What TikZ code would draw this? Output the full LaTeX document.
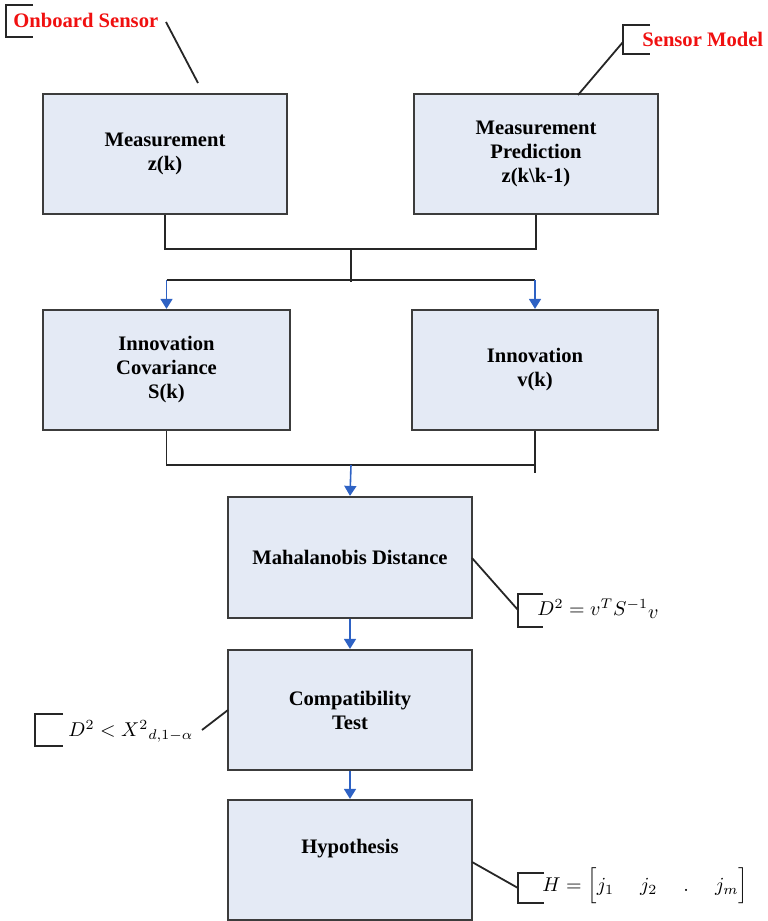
\documentclass[tikz,border=0pt]{standalone}
\usepackage{fontspec}
\setmainfont{Liberation Serif}
\usetikzlibrary{arrows.meta}
\definecolor{boxfill}{HTML}{E4EAF5}
\definecolor{boxline}{HTML}{3C3C3C}
\definecolor{arrowblue}{HTML}{2E62C4}
\definecolor{labelred}{HTML}{F01010}
\begin{document}
\begin{tikzpicture}[x=0.5pt,y=-0.5pt,
  stepbox/.style={draw=boxline, fill=boxfill, line width=1.1pt, minimum width=122pt, minimum height=60pt, inner sep=2pt, align=center, font=\fontsize{10.3}{12}\selectfont\bfseries},
  wire/.style={draw=black!85, line width=0.9pt},
  flow/.style={draw=arrowblue, line width=0.8pt, -{Triangle[length=5pt,width=6pt]}},
  bracket/.style={draw=black!85, line width=0.9pt},
  tag/.style={anchor=west, inner sep=0pt, text=labelred, font=\fontsize{10.3}{12}\selectfont\bfseries},
  eq/.style={anchor=west, inner sep=0pt, font=\fontsize{10.3}{12}\selectfont}]
\useasboundingbox (0,0) rectangle (767,921);

% boxes
\node[stepbox] (meas) at (165,154) {Measurement\\z(k)};
\node[stepbox] (pred) at (536,154) {Measurement\\Prediction\\z(k\textbackslash k-1)};
\node[stepbox, minimum width=123.5pt] (cov) at (166.5,370) {Innovation\\Covariance\\S(k)};
\node[stepbox, minimum width=123pt] (innov) at (535,370) {Innovation\\v(k)};
\node[stepbox, minimum height=60.5pt] (maha) at (350,557.5) {Mahalanobis Distance};
\node[stepbox] (compat) at (350,710) {Compatibility\\Test};
\node[stepbox, text depth=14pt] (hyp) at (350,860) {Hypothesis};

% junctions
\coordinate (j1) at (351,249);
\coordinate (j2) at (351,282);
\coordinate (j2h) at (351,280);
\coordinate (j3) at (351,465);

\draw[wire] (meas.south) |- (j1) -| (pred.south);
\draw[wire] (j1) -- (j2);
\draw[wire] (cov.north |- j2h) -- (innov.north |- j2h);
\draw[flow] (cov.north |- j2h) -- (cov.north);
\draw[flow] (innov.north |- j2h) -- (innov.north);

\draw[wire] (cov.south) |- (j3) -| (innov.south);
\draw[wire] (innov.south) -- ++(0,42);
\draw[flow] (j3) -- (maha.north);
\draw[flow] (maha.south) -- (compat.north);
\draw[flow] (compat.south) -- (hyp.north);

% Onboard Sensor label
\draw[bracket] (33,5) -- (6,5) -- (6,37) -- (33,37);
\node[tag] (onboard) at (13,20) {Onboard Sensor};
\coordinate (onbA) at (166,22);
\coordinate (onbB) at (198,83);
\draw[bracket] (onbA) -- (onbB);

% Sensor Model label
\draw[bracket] (650,25) -- (623,25) -- (623,54) -- (650,54);
\node[tag] (sensmodel) at (642,39) {Sensor Model};
\coordinate (smA) at (623,42);
\coordinate (smB) at (578,95);
\draw[bracket] (smA) -- (smB);

% Mahalanobis equation
\draw[bracket] (543,594) -- (518,594) -- (518,627) -- (543,627);
\node[eq] (eqD) at (537,609) {$D^2 = v^T S^{-1}\raisebox{-1.5pt}{$v$}$};
\coordinate (eqDA) at (472,558);
\coordinate (eqDB) at (518,610);
\draw[bracket] (eqDA) -- (eqDB);

% Compatibility test equation
\draw[bracket] (63,714) -- (35,714) -- (35,746) -- (63,746);
\node[eq] (eqX) at (68,731) {$D^2 < X^2{}_{d,1-\alpha}$};
\coordinate (eqXA) at (202,730);
\coordinate (eqXB) at (228,710);
\draw[bracket] (eqXA) -- (eqXB);

% Hypothesis equation
\draw[bracket] (544,873) -- (518,873) -- (518,903) -- (544,903);
\node[eq] (eqH) at (542,886) {$H = \Bigl[ j_1 \quad\; j_2 \quad\; . \quad\; j_m \Bigr]$};
\coordinate (eqHA) at (472,862);
\coordinate (eqHB) at (518,888);
\draw[bracket] (eqHA) -- (eqHB);
\end{tikzpicture}
\end{document}
